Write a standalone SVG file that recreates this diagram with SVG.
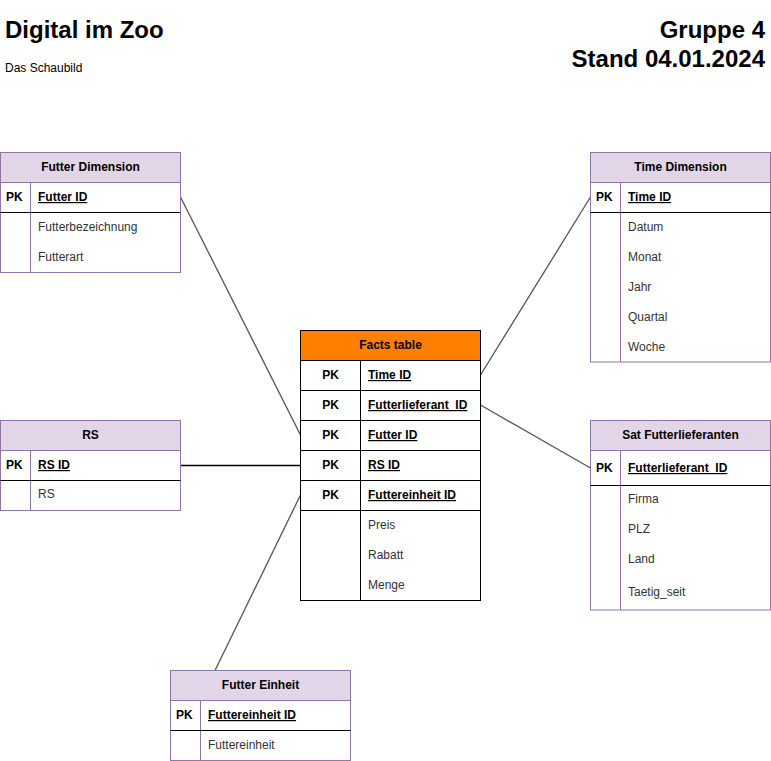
<svg xmlns="http://www.w3.org/2000/svg" width="771" height="761" viewBox="0 0 771 761">
<style>
text{font-family:"Liberation Sans",Arial,Helvetica,sans-serif;font-size:12px;fill:#000}
.title{font-size:24px;font-weight:bold}
.b{font-weight:bold}
.u{font-weight:bold;text-decoration:underline}
.m{text-anchor:middle}
.e{text-anchor:end}
.a{fill:#333}
.box{fill:#fff;stroke:#9673A6;stroke-width:1}
.hdr{fill:#E1D5E7;stroke:#9673A6;stroke-width:1}
.pv{stroke:#9673A6;stroke-width:1;fill:none}
.bl{stroke:#000;stroke-width:1;fill:none}
.con{stroke:#555;stroke-width:1.3;fill:none}
</style>
<rect width="771" height="761" fill="#fff"/>
<g id="header">
<text class="title" x="5" y="38">Digital im Zoo</text>
<text x="5" y="72">Das Schaubild</text>
<text class="title e" x="765" y="38">Gruppe 4</text>
<text class="title e" x="765" y="67">Stand 04.01.2024</text>
</g>
<g id="connectors">
<line class="con" x1="180.5" y1="197" x2="300.5" y2="435"/>
<line class="con" x1="480.5" y1="375" x2="590.5" y2="197"/>
<line class="con" x1="480.5" y1="405" x2="590.5" y2="468"/>
<line x1="180.5" y1="465.5" x2="300.5" y2="465.5" stroke="#000" stroke-width="1.3"/>
<line class="con" x1="215" y1="670.5" x2="300.5" y2="495"/>
</g>
<g id="futter-dimension">
<rect class="box" x="0.5" y="152.5" width="180" height="120"/>
<rect class="hdr" x="0.5" y="152.5" width="180" height="30"/>
<line class="pv" x1="30.5" y1="182.5" x2="30.5" y2="272.5"/>
<line class="bl" x1="0.5" y1="212.5" x2="180.5" y2="212.5"/>
<text class="b m" x="90.5" y="171">Futter Dimension</text>
<text class="b" x="6" y="201">PK</text>
<text class="u" x="38" y="201">Futter ID</text>
<text class="a" x="38" y="231">Futterbezeichnung</text>
<text class="a" x="38" y="261">Futterart</text>
</g>
<g id="time-dimension">
<rect class="box" x="590.5" y="152.5" width="180" height="209.5"/>
<rect class="hdr" x="590.5" y="152.5" width="180" height="30"/>
<line class="pv" x1="620.5" y1="182.5" x2="620.5" y2="362"/>
<line class="bl" x1="590.5" y1="212.5" x2="770.5" y2="212.5"/>
<text class="b m" x="680.5" y="171">Time Dimension</text>
<text class="b" x="596" y="201">PK</text>
<text class="u" x="628" y="201">Time ID</text>
<text class="a" x="628" y="231">Datum</text>
<text class="a" x="628" y="261">Monat</text>
<text class="a" x="628" y="291">Jahr</text>
<text class="a" x="628" y="321">Quartal</text>
<text class="a" x="628" y="351">Woche</text>
</g>
<g id="facts-table">
<rect x="300.5" y="330.5" width="180" height="270" fill="#fff" stroke="#000"/>
<rect x="300.5" y="330.5" width="180" height="30" fill="#FF8000" stroke="#000"/>
<line class="bl" x1="360.5" y1="360.5" x2="360.5" y2="600.5"/>
<line class="bl" x1="300.5" y1="390.5" x2="480.5" y2="390.5"/>
<line class="bl" x1="300.5" y1="420.5" x2="480.5" y2="420.5"/>
<line class="bl" x1="300.5" y1="450.5" x2="480.5" y2="450.5"/>
<line class="bl" x1="300.5" y1="480.5" x2="480.5" y2="480.5"/>
<line class="bl" x1="300.5" y1="510.5" x2="480.5" y2="510.5"/>
<text class="b m" x="390.5" y="349">Facts table</text>
<text class="b m" x="330.5" y="379">PK</text>
<text class="u" x="368" y="379">Time ID</text>
<text class="b m" x="330.5" y="409">PK</text>
<text class="u" x="368" y="409">Futterlieferant_ID</text>
<text class="b m" x="330.5" y="439">PK</text>
<text class="u" x="368" y="439">Futter ID</text>
<text class="b m" x="330.5" y="469">PK</text>
<text class="u" x="368" y="469">RS ID</text>
<text class="b m" x="330.5" y="499">PK</text>
<text class="u" x="368" y="499">Futtereinheit ID</text>
<text class="a" x="368" y="529">Preis</text>
<text class="a" x="368" y="559">Rabatt</text>
<text class="a" x="368" y="589">Menge</text>
</g>
<g id="rs">
<rect class="box" x="0.5" y="420.5" width="180" height="90"/>
<rect class="hdr" x="0.5" y="420.5" width="180" height="30"/>
<line class="pv" x1="30.5" y1="450.5" x2="30.5" y2="510.5"/>
<line class="bl" x1="0.5" y1="480.5" x2="180.5" y2="480.5"/>
<text class="b m" x="90.5" y="439">RS</text>
<text class="b" x="6" y="469">PK</text>
<text class="u" x="38" y="469">RS ID</text>
<text class="a" x="38" y="498">RS</text>
</g>
<g id="sat-futterlieferanten">
<rect class="box" x="590.5" y="420.5" width="180" height="189.5"/>
<rect class="hdr" x="590.5" y="420.5" width="180" height="30"/>
<line class="pv" x1="620.5" y1="450.5" x2="620.5" y2="610"/>
<line class="bl" x1="590.5" y1="485.5" x2="770.5" y2="485.5"/>
<text class="b m" x="680.5" y="439">Sat Futterlieferanten</text>
<text class="b" x="596" y="472">PK</text>
<text class="u" x="628" y="472">Futterlieferant_ID</text>
<text class="a" x="628" y="503">Firma</text>
<text class="a" x="628" y="533">PLZ</text>
<text class="a" x="628" y="563">Land</text>
<text class="a" x="628" y="596">Taetig_seit</text>
</g>
<g id="futter-einheit">
<rect class="box" x="170.5" y="670.5" width="180" height="90"/>
<rect class="hdr" x="170.5" y="670.5" width="180" height="30"/>
<line class="pv" x1="200.5" y1="700.5" x2="200.5" y2="760.5"/>
<line class="bl" x1="170.5" y1="730.5" x2="350.5" y2="730.5"/>
<text class="b m" x="260.5" y="689">Futter Einheit</text>
<text class="b" x="176" y="719">PK</text>
<text class="u" x="208" y="719">Futtereinheit ID</text>
<text class="a" x="208" y="749">Futtereinheit</text>
</g>
</svg>
